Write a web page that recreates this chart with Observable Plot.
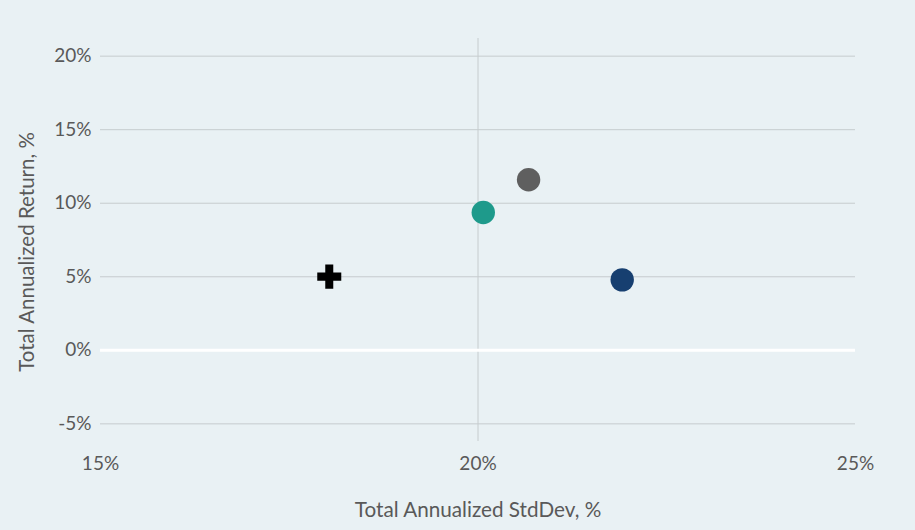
<!DOCTYPE html>
<html>
<head>
<meta charset="utf-8">
<script src="https://cdn.jsdelivr.net/npm/d3@7"></script>
<script src="https://cdn.jsdelivr.net/npm/@observablehq/plot@0.6"></script>
<style>
  html, body { margin: 0; padding: 0; background: #e9f1f4; }
  #chart { width: 915px; height: 530px; }
</style>
</head>
<body>
<div id="chart"></div>
<script>
// Risk / return points, values in percent
const series = ["A", "B", "C", "D"];
const stdDev = [18.03, 20.07, 20.67, 21.91];
const annReturn = [5.01, 9.37, 11.6, 4.79];

const xTicks = [15, 20, 25];
const yTicks = [-5, 0, 5, 10, 15, 20];

const rows = series.map((s, i) => ({ s, x: stdDev[i], y: annReturn[i] }));
const circles = rows.filter(d => d.s !== "A");
const crosses = rows.filter(d => d.s === "A");

const textColor = "#595959";
const font = "Lato, 'Open Sans', sans-serif";
const pct = d => (d < 0 ? "-" + Math.abs(d) : String(d)) + "%";

const chart = Plot.plot({
  width: 915,
  height: 530,
  marginLeft: 100,
  marginRight: 60,
  marginTop: 38,
  marginBottom: 89,
  style: { background: "#e9f1f4", fontFamily: font, fontSize: "19px", color: textColor },
  x: { domain: [15, 25] },
  y: { domain: [-6.2, 21.2] },
  color: { domain: ["B", "C", "D"], range: ["#1e9a8b", "#5f5f5f", "#173f70"] },
  marks: [
    Plot.gridY(yTicks.filter(d => d !== 0), { stroke: "#c6ccce", strokeOpacity: 1, strokeWidth: 1 }),
    Plot.ruleX([20], { stroke: "#c6ccce", strokeWidth: 1 }),
    Plot.ruleY([0], { stroke: "#ffffff", strokeWidth: 3 }),
    Plot.axisX(xTicks, { tickSize: 0, tickPadding: 15, tickFormat: pct, label: null, fill: textColor, fontSize: 19 }),
    Plot.axisY(yTicks, { tickSize: 0, tickPadding: 9, tickFormat: pct, label: null, fill: textColor, fontSize: 19 }),
    Plot.text(["Total Annualized StdDev, %"], {
      frameAnchor: "bottom", dy: 69, textAnchor: "middle", lineAnchor: "middle", fill: textColor, fontSize: 20.7
    }),
    Plot.text(["Total Annualized Return, %"], {
      frameAnchor: "left", dx: -73, dy: 12, rotate: -90, textAnchor: "middle", lineAnchor: "middle", fill: textColor, fontSize: 20.5
    }),
    Plot.dot(circles, { x: "x", y: "y", fill: "s", r: 11.7 }),
    Plot.dot(crosses, { x: "x", y: "y", symbol: "cross", fill: "#000000", r: 10.1 })
  ]
});

document.getElementById("chart").appendChild(chart);
</script>
</body>
</html>
